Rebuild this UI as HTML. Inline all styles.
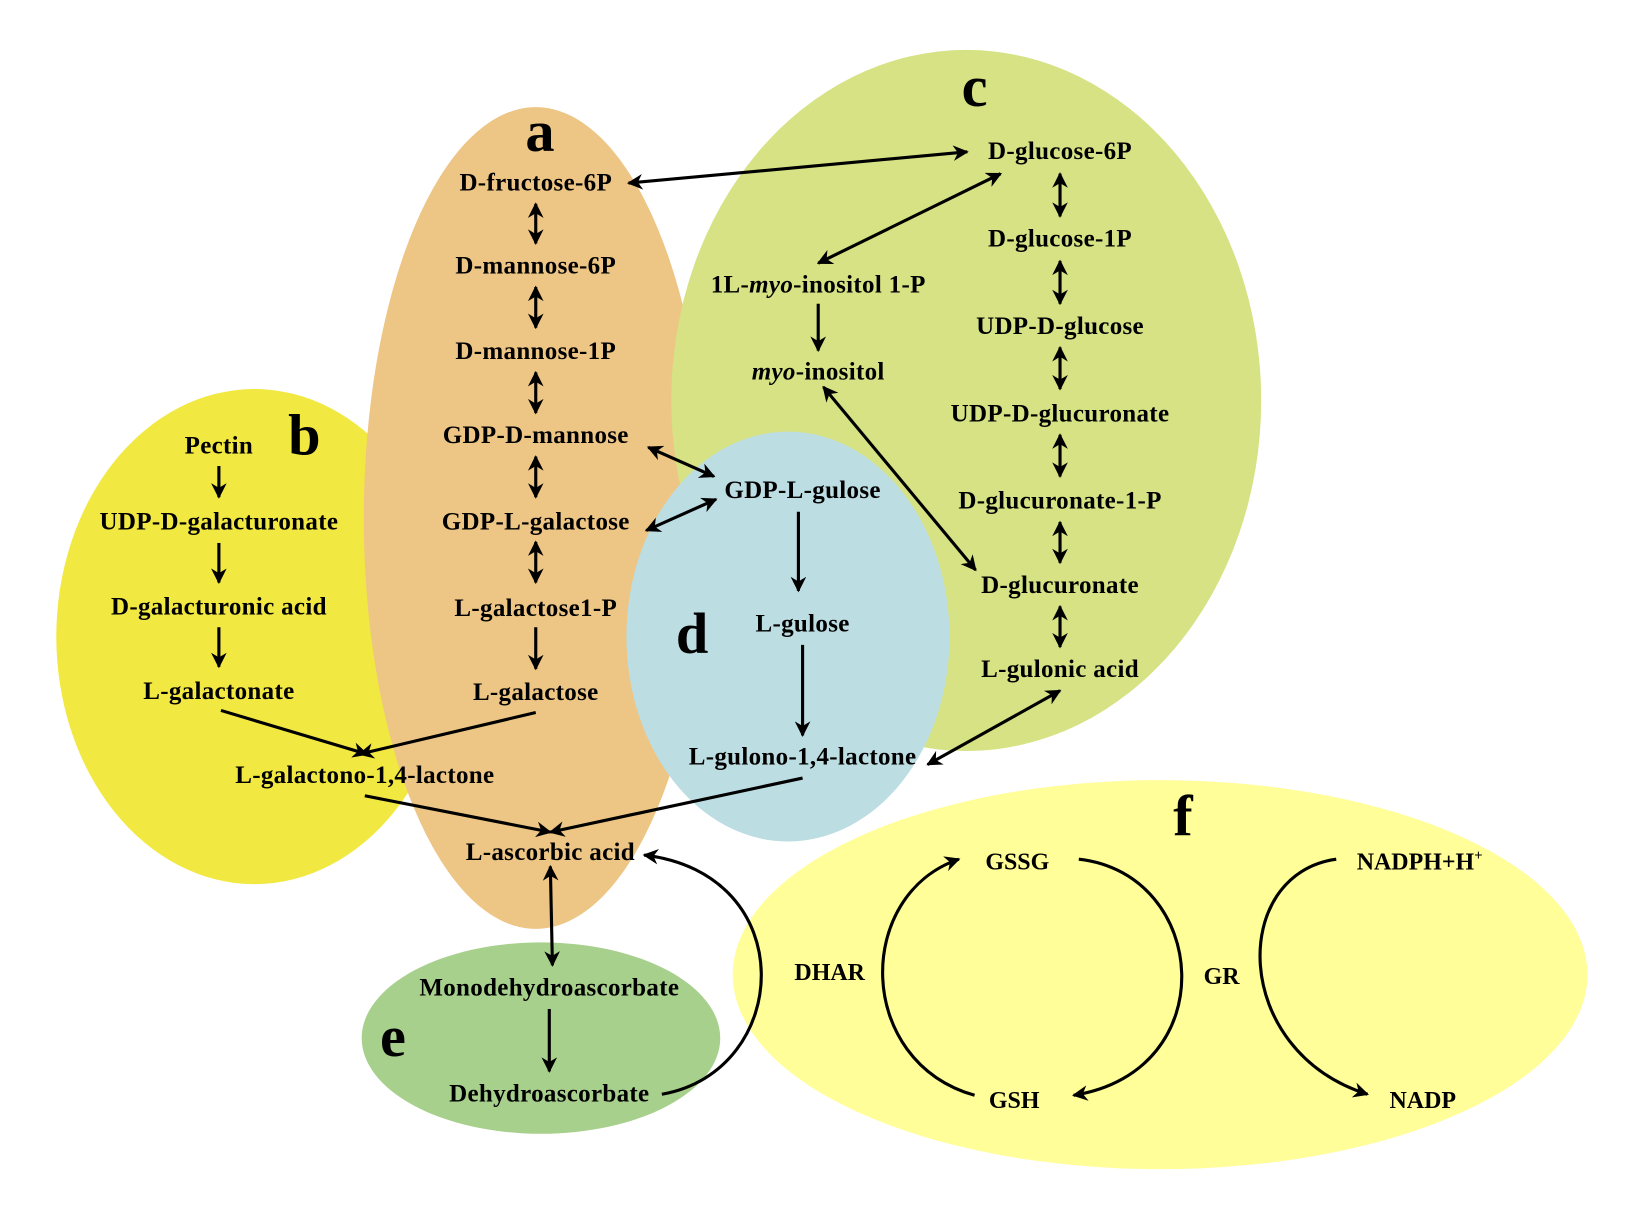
<!DOCTYPE html>
<html><head><meta charset="utf-8"><style>
html,body{margin:0;padding:0;background:#fff;}
svg{display:block;}
text{font-family:"Liberation Serif",serif;font-weight:bold;font-size:24px;letter-spacing:0.3px;text-anchor:middle;fill:#000;}
.L{font-size:56px;letter-spacing:0;}
.f text{font-size:23px;letter-spacing:0;}
</style></head><body>
<svg width="1626" height="1217" viewBox="0 0 1560 1170" preserveAspectRatio="none" xmlns="http://www.w3.org/2000/svg">
<defs>
<marker id="h" viewBox="0 0 10 10" refX="9" refY="5" markerWidth="5" markerHeight="5" orient="auto-start-reverse"><path d="M0,0 L10,5 L0,10 L3,5 z" fill="#000"/></marker>
</defs>
<ellipse cx="244" cy="612" rx="190" ry="238" fill="#F2E842"/>
<ellipse cx="514" cy="498" rx="165" ry="395" fill="#EDC584"/>
<ellipse cx="927" cy="385" rx="283" ry="337" fill="#D6E283"/>
<ellipse cx="756" cy="612" rx="155" ry="197" fill="#BCDDE2"/>
<ellipse cx="519" cy="998" rx="172" ry="92" fill="#A8D08D"/>
<ellipse cx="1113" cy="937" rx="410" ry="187" fill="#FFFE99"/>

<text class="L" x="518" y="145">a</text>
<text class="L" x="292" y="437">b</text>
<text class="L" x="935" y="102">c</text>
<text class="L" x="664" y="628">d</text>
<text class="L" x="377" y="1015">e</text>
<text class="L" x="1135" y="803">f</text>

<text x="514" y="183">D-fructose-6P</text>
<text x="514" y="263">D-mannose-6P</text>
<text x="514" y="345">D-mannose-1P</text>
<text x="514" y="426">GDP-D-mannose</text>
<text x="514" y="509">GDP-L-galactose</text>
<text x="514" y="592">L-galactose1-P</text>
<text x="514" y="673">L-galactose</text>

<text x="210" y="436">Pectin</text>
<text x="210" y="509">UDP-D-galacturonate</text>
<text x="210" y="591">D-galacturonic acid</text>
<text x="210" y="672">L-galactonate</text>
<text x="350" y="753">L-galactono-1,4-lactone</text>
<text x="528" y="827">L-ascorbic acid</text>

<text x="1017" y="153">D-glucose-6P</text>
<text x="1017" y="237">D-glucose-1P</text>
<text x="1017" y="321">UDP-D-glucose</text>
<text x="1017" y="405">UDP-D-glucuronate</text>
<text x="1017" y="489">D-glucuronate-1-P</text>
<text x="1017" y="570">D-glucuronate</text>
<text x="1017" y="651">L-gulonic acid</text>
<text x="785" y="281">1L-<tspan font-style="italic">myo</tspan>-inositol 1-P</text>
<text x="785" y="365"><tspan font-style="italic">myo</tspan>-inositol</text>

<text x="770" y="479">GDP-L-gulose</text>
<text x="770" y="607">L-gulose</text>
<text x="770" y="735">L-gulono-1,4-lactone</text>

<text x="527" y="957">Monodehydroascorbate</text>
<text x="527" y="1059">Dehydroascorbate</text>

<g class="f">
<text x="976" y="836">GSSG</text>
<text x="973" y="1065">GSH</text>
<text x="1362" y="836">NADPH+H<tspan font-size="14" dy="-9">+</tspan></text>
<text x="1365" y="1065">NADP</text>
<text x="796" y="942">DHAR</text>
<text x="1172" y="946">GR</text>
</g>

<g stroke="#000" stroke-width="3" fill="none">
<line x1="514" y1="196" x2="514" y2="234" marker-start="url(#h)" marker-end="url(#h)"/>
<line x1="514" y1="276" x2="514" y2="315" marker-start="url(#h)" marker-end="url(#h)"/>
<line x1="514" y1="358" x2="514" y2="397" marker-start="url(#h)" marker-end="url(#h)"/>
<line x1="514" y1="439" x2="514" y2="478" marker-start="url(#h)" marker-end="url(#h)"/>
<line x1="514" y1="521" x2="514" y2="560" marker-start="url(#h)" marker-end="url(#h)"/>
<line x1="514" y1="603" x2="514" y2="643" marker-end="url(#h)"/>
<line x1="210" y1="448" x2="210" y2="478" marker-end="url(#h)"/>
<line x1="210" y1="522" x2="210" y2="560" marker-end="url(#h)"/>
<line x1="210" y1="603" x2="210" y2="641" marker-end="url(#h)"/>
<line x1="1017" y1="167" x2="1017" y2="208" marker-start="url(#h)" marker-end="url(#h)"/>
<line x1="1017" y1="251" x2="1017" y2="292" marker-start="url(#h)" marker-end="url(#h)"/>
<line x1="1017" y1="334" x2="1017" y2="374" marker-start="url(#h)" marker-end="url(#h)"/>
<line x1="1017" y1="418" x2="1017" y2="458" marker-start="url(#h)" marker-end="url(#h)"/>
<line x1="1017" y1="502" x2="1017" y2="541" marker-start="url(#h)" marker-end="url(#h)"/>
<line x1="1017" y1="583" x2="1017" y2="622" marker-start="url(#h)" marker-end="url(#h)"/>
<line x1="603" y1="176" x2="928" y2="146" marker-start="url(#h)" marker-end="url(#h)"/>
<line x1="960" y1="167" x2="785" y2="253" marker-start="url(#h)" marker-end="url(#h)"/>
<line x1="785" y1="292" x2="785" y2="337" marker-end="url(#h)"/>
<line x1="790" y1="372" x2="936" y2="548" marker-start="url(#h)" marker-end="url(#h)"/>
<line x1="622" y1="430" x2="685" y2="458" marker-start="url(#h)" marker-end="url(#h)"/>
<line x1="620" y1="510" x2="687" y2="480" marker-start="url(#h)" marker-end="url(#h)"/>
<line x1="766" y1="492" x2="766" y2="568" marker-end="url(#h)"/>
<line x1="770" y1="620" x2="770" y2="707" marker-end="url(#h)"/>
<line x1="1017" y1="664" x2="890" y2="735" marker-start="url(#h)" marker-end="url(#h)"/>
<line x1="212" y1="683" x2="352" y2="725" marker-end="url(#h)"/>
<line x1="514" y1="685" x2="345" y2="725" marker-end="url(#h)"/>
<line x1="350" y1="765" x2="528" y2="800" marker-end="url(#h)"/>
<line x1="770" y1="748" x2="528" y2="800" marker-end="url(#h)"/>
<line x1="528" y1="833" x2="530" y2="928" marker-start="url(#h)" marker-end="url(#h)"/>
<line x1="527" y1="970" x2="527" y2="1030" marker-end="url(#h)"/>
<path d="M635,1052 C760,1030 770,840 618,822" marker-end="url(#h)"/>
<path d="M935,1053 C820,1020 820,860 920,826" marker-end="url(#h)"/>
<path d="M1035,826 C1160,840 1175,1030 1030,1053" marker-end="url(#h)"/>
<path d="M1282,826 C1180,840 1180,1010 1312,1052" marker-end="url(#h)"/>
</g>
</svg>
</body></html>
